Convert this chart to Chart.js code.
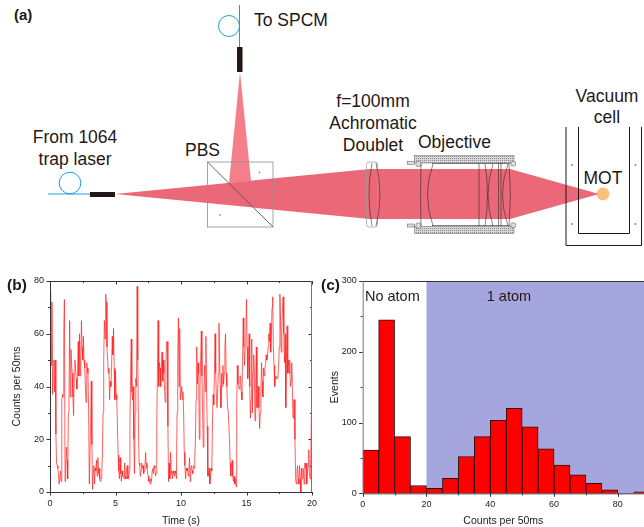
<!DOCTYPE html>
<html><head><meta charset="utf-8">
<script src="https://cdn.jsdelivr.net/npm/chart.js@4"></script>
<style>
html,body{margin:0;padding:0;background:#fff;overflow:hidden}
#page{position:relative;width:644px;height:527px;font-family:"Liberation Sans",Arial,sans-serif}
svg,canvas{position:absolute;display:block}
svg text{font-family:"Liberation Sans",Arial,sans-serif;fill:#231815}
</style></head><body>
<div id="page">
<svg id="diagram" width="644" height="270" style="left:0;top:0" viewBox="0 0 644 270">
<defs>
<pattern id="hatch" width="2" height="2" patternUnits="userSpaceOnUse"><rect width="2" height="2" fill="#d8d8d8"/><rect width="1" height="1" fill="#8c8c8c"/></pattern>
</defs>
<circle cx="603" cy="194" r="6.5" fill="#f9c27b"/>
<polygon points="240,72 229,183 251,181" fill="#f47f8b"/>
<polygon points="115,194 370,169 510,169 599,194 510,219 370,219" fill="#ea6877"/>
<rect x="207.5" y="162" width="65.5" height="65" fill="none" stroke="#8f8f8f" stroke-width="0.8"/>
<line x1="207.5" y1="162" x2="273" y2="227" stroke="#555" stroke-width="0.9"/>
<circle cx="259.5" cy="172.500" r="0.9" fill="#999"/><circle cx="220" cy="215" r="0.9" fill="#999"/>
<g fill="none" stroke="#1ba0dc" stroke-width="1">
<line x1="48" y1="194" x2="90" y2="194"/><circle cx="70" cy="183" r="10.8"/>
<line x1="239.500" y1="5" x2="239.500" y2="47"/><circle cx="229" cy="26" r="10.500"/>
</g>
<rect x="90" y="192" width="25" height="5" fill="#231815"/>
<rect x="237" y="47" width="5.500" height="25" fill="#231815"/>
<!-- doublet -->
<rect x="366.500" y="162" width="11" height="65" rx="2.500" fill="none" stroke="#9a9a9a" stroke-width="0.7"/>
<path d="M372 163 Q366 194 372 226 M376 163 Q384 194 376 226" fill="none" stroke="#333" stroke-width="0.6"/>
<!-- objective -->
<rect x="414.500" y="155.500" width="99.500" height="7.500" fill="url(#hatch)" stroke="#666" stroke-width="0.5"/>
<rect x="414.500" y="226.500" width="99.500" height="7" fill="url(#hatch)" stroke="#666" stroke-width="0.5"/>
<g fill="#dcdcdc" stroke="#555" stroke-width="0.5">
<rect x="407.500" y="161.500" width="7" height="3"/><rect x="407.500" y="224" width="7" height="3"/>
<rect x="416" y="161.500" width="5" height="5" rx="1.500"/><rect x="416" y="223" width="5" height="5" rx="1.500"/>
<rect x="511" y="161.500" width="4.500" height="4.500" rx="1"/><rect x="511" y="223" width="4.500" height="4.500" rx="1"/>
</g>
<g fill="none" stroke="#222" stroke-width="0.55">
<line x1="432" y1="163.500" x2="510" y2="163.500"/><line x1="432" y1="225.500" x2="510" y2="225.500"/>
<path d="M421 164 Q420 194 421 226"/>
<path d="M433 164 Q422 194 433 226"/>
<path d="M479 163 Q479 194 479 226"/>
<path d="M485 164 Q490 194 485 226"/>
<path d="M493 164 Q483 194 493 226"/>
<line x1="498.500" y1="163" x2="498.500" y2="226"/>
<line x1="501" y1="163" x2="501" y2="226"/>
<path d="M508 164 Q497 194 508 226"/>
<path d="M509 164 Q512 194 509 226"/>
</g>
<!-- vacuum cell -->
<g fill="none" stroke="#231815" stroke-width="1">
<path d="M566 127 V245.500 H641.500 V127"/>
<path d="M578.500 127 V233.500 H629.500 V127"/>
</g>
<g fill="#8a8a8a"><circle cx="572" cy="165" r="1"/><circle cx="635.500" cy="165" r="1"/><circle cx="572" cy="224" r="1"/><circle cx="635.500" cy="224" r="1"/></g>
<g font-size="17.500">
<text x="254" y="26">To SPCM</text>
<text x="75" y="143" text-anchor="middle">From 1064</text>
<text x="75" y="165" text-anchor="middle">trap laser</text>
<text x="185" y="156">PBS</text>
<text x="373" y="107" text-anchor="middle">f=100mm</text>
<text x="373" y="129" text-anchor="middle">Achromatic</text>
<text x="373" y="151" text-anchor="middle">Doublet</text>
<text x="418" y="148">Objective</text>
<text x="607" y="102" text-anchor="middle">Vacuum</text>
<text x="607" y="123" text-anchor="middle">cell</text>
<text x="603" y="184" text-anchor="middle">MOT</text>
</g>
<text x="14" y="20" font-size="15" font-weight="bold">(a)</text>
</svg>
<canvas id="chartB" width="320" height="257" style="left:0;top:270px"></canvas>
<canvas id="chartC" width="324" height="257" style="left:320px;top:270px"></canvas>
</div>
<script>
const timeStepSeconds = 0.05;
const countsPerBin = [
49,76,48,72,37,46,50,38,50,22,11,10,9,6,3,3,8,4,35,37,
36,60,73,4,10,17,12,5,30,35,65,36,54,48,45,36,29,45,50,47,
43,39,43,57,44,60,44,50,65,55,50,59,50,47,40,34,49,47,45,30,
3,3,25,42,18,1,8,10,3,9,8,12,6,13,7,9,5,4,5,7,
14,30,50,65,58,75,72,55,50,45,47,35,42,40,47,59,52,62,47,35,
46,37,35,25,14,8,5,13,7,4,8,6,6,5,11,6,5,9,10,5,
5,8,25,45,58,38,35,40,20,7,30,43,40,78,50,25,11,10,6,8,
11,9,10,7,8,10,15,9,11,7,6,4,5,3,5,4,8,9,7,10,
9,6,7,25,45,65,40,49,47,40,47,53,42,50,45,38,34,50,57,57,
25,4,11,5,15,8,7,5,8,7,6,8,7,5,30,50,66,40,62,35,
38,40,35,38,30,15,10,5,9,8,9,6,8,13,4,9,10,8,7,10,
9,12,20,35,55,41,49,45,20,40,50,61,44,30,17,40,48,38,59,40,
25,6,6,9,3,5,9,8,25,37,33,45,60,45,37,32,32,45,64,50,
40,32,45,40,48,41,45,55,60,45,40,32,31,31,20,11,6,9,12,6,
4,6,3,5,2,30,48,41,40,39,44,44,38,35,50,66,55,48,55,60,
73,55,43,50,60,40,28,35,58,30,45,52,46,27,40,55,32,32,40,32,
24,30,38,49,42,36,47,44,47,48,52,50,51,55,60,57,64,53,60,70,
74,55,48,40,43,44,43,43,44,48,55,75,65,53,62,70,74,60,49,60,
32,50,63,45,50,45,50,40,42,49,40,28,35,35,20,5,3,8,10,5,
3,10,5,0,9,5,9,8,3,11,9,11,3,7,10,16,7,5,10,28,
49];
const histBinCentres = [2.5,7.5,12.5,17.5,22.5,27.5,32.5,37.5,42.5,47.5,52.5,57.5,62.5,67.5,72.5,77.5,82.5,87.5];
const histEvents = [61,245,80,11,7,21,52,80,103,120,94,63,40,26,14,5,0,2];
const oneAtomFrom = 20;
const regionLabels = ['No atom','1 atom'];
const regionLabelStarts = [0.7,38.9];

const FONT = '"Liberation Sans",Arial,sans-serif';
const INK = '#222';

const framePlugin = {
  id:'frame',
  beforeDatasetsDraw(chart,_,o){
    if(o.shadeFrom===undefined) return;
    const {ctx,chartArea:a,scales:{x}} = chart;
    const px = x.getPixelForValue(o.shadeFrom);
    ctx.save();ctx.fillStyle=o.shadeColor;ctx.fillRect(px,a.top,a.right-px,a.bottom-a.top);ctx.restore();
  },
  afterDatasetsDraw(chart,_,o){
    const {ctx,chartArea:a,scales:{x,y}} = chart;
    const isMajor=t=>t.label!==''&&t.label!==undefined;
    ctx.save();ctx.lineWidth=1;ctx.strokeStyle='#333';
    const seg=(x1,y1,x2,y2,c)=>{ctx.strokeStyle=c||'#333';ctx.beginPath();ctx.moveTo(x1,y1);ctx.lineTo(x2,y2);ctx.stroke();};
    x.ticks.forEach(t=>{
      const p=Math.round(x.getPixelForValue(t.value))+.5,l=isMajor(t)?3.5:2;
      seg(p,a.bottom,p,a.bottom+l);
      if(o.mirror) seg(p,a.top,p,a.top+l);
    });
    y.ticks.forEach(t=>{
      const p=Math.round(y.getPixelForValue(t.value))+.5,l=isMajor(t)?3.5:2;
      seg(a.left,p,a.left-l,p);
      if(o.mirror) seg(a.right,p,a.right-l,p);
    });
    seg(a.left,a.bottom+.5,a.right,a.bottom+.5);
    seg(a.left,a.top+.5,a.right,a.top+.5);
    seg(a.left+.5,a.top,a.left+.5,a.bottom,o.leftColor||'#333');
    if(o.mirror) seg(a.right-.5,a.top,a.right-.5,a.bottom,'#777');
    ctx.textBaseline='alphabetic';
    (o.texts||[]).forEach(t=>{
      ctx.font=(t.bold?'bold ':'')+t.size+'px '+FONT;
      ctx.fillStyle='#231815';
      ctx.fillText(t.text,t.px===undefined?x.getPixelForValue(t.x):t.px,t.py);
    });
    ctx.restore();
  }
};

function axis(stepSize,every,max,title,size,tickPad,titlePad){
  return {
    type:'linear',min:0,max,offset:false,
    grid:{display:false,drawTicks:false,offset:false},border:{display:false},
    ticks:{stepSize,includeBounds:false,autoSkip:false,maxRotation:0,padding:tickPad,color:INK,font:{size:9,family:FONT},
      callback:v=>Math.abs(v%every)<1e-6?String(v):''},
    title:{display:true,text:title,color:INK,font:{size:10.5,family:FONT},padding:{top:titlePad,bottom:0}},
    afterFit(s){
      if(s.isHorizontal()) s.height=size; else s.width=size;
      s.paddingLeft=s.paddingRight=s.paddingTop=s.paddingBottom=0;
    }
  };
}

new Chart(document.getElementById('chartB'),{
  type:'line',
  data:{datasets:[{
    data:countsPerBin.map((v,i)=>({x:i*timeStepSeconds,y:v})),
    borderColor:'#ff2020',borderWidth:0.7,pointRadius:0,tension:0
  }]},
  options:{
    responsive:false,animation:false,
    layout:{padding:{top:11,right:8,bottom:0,left:0}},
    plugins:{legend:{display:false},tooltip:{enabled:false},
      frame:{mirror:true,texts:[{text:'(b)',px:7,py:20,size:15.5,bold:true}]}},
    scales:{
      x:axis(2.5,5,20,'Time (s)',35,6,2),
      y:axis(10,20,80,'Counts per 50ms',50,6,11)
    }
  },
  plugins:[framePlugin]
});

new Chart(document.getElementById('chartC'),{
  type:'bar',
  data:{datasets:[{
    data:histBinCentres.map((c,i)=>({x:c,y:histEvents[i]})),
    backgroundColor:'#ff0000',borderColor:'#3a0a0a',borderWidth:1,
    barPercentage:1,categoryPercentage:1
  }]},
  options:{
    responsive:false,animation:false,
    layout:{padding:{top:11,right:0,bottom:0,left:0}},
    plugins:{legend:{display:false},tooltip:{enabled:false},
      frame:{mirror:false,leftColor:'#777',shadeFrom:oneAtomFrom,shadeColor:'#a6a6de',
        texts:[{text:'(c)',px:1,py:20,size:15.5,bold:true},
          ...regionLabels.map((r,i)=>({text:r,x:regionLabelStarts[i],py:31,size:14.5}))]}},
    scales:{
      x:axis(10,20,88.2,'Counts per 50ms',33.7,6,3),
      y:axis(50,100,300,'Events',42.7,6,9)
    }
  },
  plugins:[framePlugin]
});
</script>
</body></html>
